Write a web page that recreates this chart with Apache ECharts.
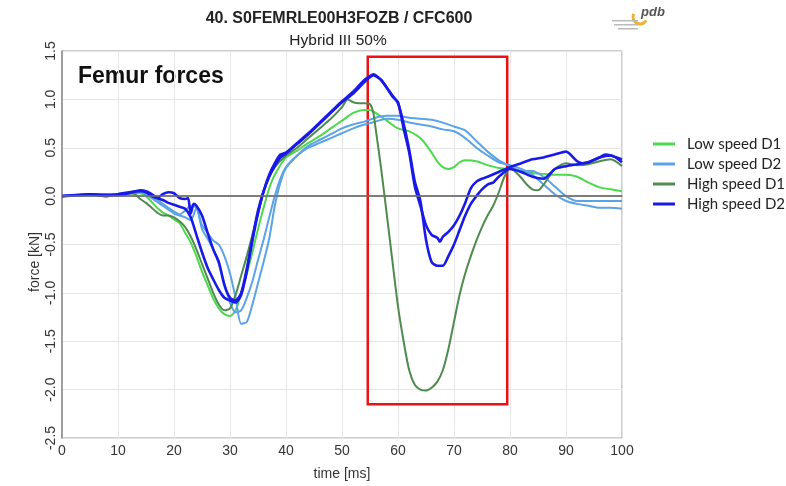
<!DOCTYPE html>
<html>
<head>
<meta charset="utf-8">
<script src="https://cdn.jsdelivr.net/npm/echarts@6/dist/echarts.min.js"></script>
<style>html,body{margin:0;padding:0;background:#fff}#c{width:786px;height:486px}</style>
</head>
<body>
<div id="c"></div>
<script>
// ---- data ----
const seriesNames = ['Low speed D1', 'Low speed D2', 'High speed D1', 'High speed D2'];
const xTicks = [0, 10, 20, 30, 40, 50, 60, 70, 80, 90, 100];
const yTicks = [-2.5, -2.0, -1.5, -1.0, -0.5, 0.0, 0.5, 1.0, 1.5];

const lowD1_t = [0,5,10,12,14,15,16,17,18,19,20,21,22,23,24,25,26,27,28,29,30,31,32,33,34,35,36,37,38,40,42,44,46,48,50,52,54,55,56,58,60,62,64,66,67,68,69,70,71,72,74,76,78,80,82,84,86,88,90,92,94,96,98,100];
const lowD1_f = [0,0.01,0.02,0.03,0.03,0.0,-0.06,-0.12,-0.17,-0.2,-0.24,-0.28,-0.38,-0.48,-0.62,-0.78,-0.92,-1.06,-1.16,-1.22,-1.24,-1.18,-1.0,-0.8,-0.58,-0.34,-0.12,0.08,0.22,0.4,0.47,0.55,0.62,0.7,0.78,0.86,0.89,0.89,0.86,0.78,0.7,0.67,0.6,0.45,0.36,0.3,0.28,0.3,0.35,0.37,0.36,0.32,0.29,0.28,0.26,0.24,0.23,0.22,0.22,0.2,0.14,0.09,0.07,0.05];

const lowD2a_t = [0,5,10,12,14,16,17,18,19,20,21,22,23,24,25,26,27,28,29,30,31,32,33,34,35,36,37,38,39,40,42,44,46,48,50,52,54,56,58,60,62,64,66,68,70,72,74,76,78,80,82,84,86,88,90,92,94,96,98,100];
const lowD2a_f = [0,0.01,0.02,0.04,0.05,0.0,-0.04,-0.08,-0.12,-0.16,-0.19,-0.15,-0.1,-0.12,-0.3,-0.38,-0.46,-0.5,-0.62,-0.8,-1.05,-1.32,-1.3,-1.12,-0.9,-0.68,-0.44,-0.1,0.14,0.29,0.42,0.52,0.58,0.64,0.7,0.74,0.77,0.81,0.83,0.83,0.81,0.8,0.79,0.76,0.72,0.68,0.57,0.46,0.37,0.31,0.26,0.26,0.2,0.1,0.0,-0.05,-0.05,-0.05,-0.05,-0.05];

const lowD2b_t = [0,5,10,12,14,16,18,19,20,21,22,23,24,25,26,27,28,29,30,31,32,33,34,35,36,37,38,39,40,42,44,46,48,50,52,54,56,58,60,62,64,66,68,70,72,74,76,78,80,82,84,86,88,90,92,94,96,98,100];
const lowD2b_f = [0,0.01,0.02,0.03,0.04,-0.02,-0.1,-0.14,-0.18,-0.2,-0.22,-0.25,-0.12,-0.34,-0.44,-0.55,-0.7,-0.9,-1.1,-1.2,-1.18,-1.05,-0.88,-0.66,-0.45,-0.22,0.0,0.18,0.3,0.42,0.5,0.55,0.6,0.65,0.7,0.74,0.77,0.8,0.79,0.76,0.74,0.72,0.69,0.67,0.6,0.5,0.42,0.35,0.32,0.28,0.22,0.12,0.02,-0.05,-0.08,-0.1,-0.12,-0.12,-0.13];

const highD1_t = [0,5,10,12,13,14,15,16,17,18,19,20,21,22,23,24,25,26,27,28,29,30,31,32,33,34,35,36,37,38,40,42,44,46,48,50,51,52,53,54,55,55.6,56,57,58,59,60,61,62,63,64,65,66,67,68,69,70,71,72,73,74,75,76,77,78,79,80,81,82,83,84,85,86,87,88,90,92,94,96,98,100];
const highD1_f = [0,0.01,0.02,0.03,0.02,-0.03,-0.07,-0.12,-0.17,-0.2,-0.2,-0.22,-0.26,-0.32,-0.42,-0.55,-0.7,-0.85,-1.0,-1.12,-1.18,-1.16,-1.02,-0.82,-0.62,-0.4,-0.18,0.05,0.2,0.3,0.42,0.5,0.6,0.7,0.8,0.92,1.0,0.97,0.96,0.96,0.95,0.86,0.7,0.28,-0.19,-0.67,-1.14,-1.5,-1.8,-1.95,-2.0,-2.01,-1.98,-1.92,-1.8,-1.58,-1.3,-1.02,-0.8,-0.62,-0.46,-0.32,-0.2,-0.1,0.04,0.2,0.29,0.25,0.19,0.12,0.07,0.06,0.12,0.2,0.28,0.34,0.32,0.33,0.36,0.38,0.31];

const highD2a_t = [0,3,5,8,10,12,14,15,16,17,18,19,20,21,22,22.5,23,23.5,24,25,26,27,28,29,30,31,32,33,34,35,36,37,38,39,40,42,44,46,48,50,52,54,55,55.6,56,57,58,59,60,61,62,63,64,65,66,67,67.5,68,69,70,71,72,73,74,75,76,78,80,82,84,86,88,90,92,93,94,96,97,98,100];
const highD2a_f = [0,0.01,0.02,0.0,0.02,0.04,0.05,0.04,0.0,-0.02,0.02,0.04,0.03,-0.02,-0.03,-0.02,-0.18,-0.08,-0.1,-0.2,-0.38,-0.55,-0.68,-0.92,-1.05,-1.08,-1.0,-0.75,-0.44,-0.15,0.05,0.2,0.31,0.4,0.44,0.54,0.64,0.75,0.86,0.97,1.06,1.18,1.23,1.25,1.24,1.2,1.12,1.03,0.97,0.7,0.45,0.1,-0.1,-0.3,-0.4,-0.43,-0.47,-0.42,-0.37,-0.3,-0.2,-0.07,0.08,0.15,0.18,0.2,0.25,0.3,0.34,0.38,0.4,0.43,0.46,0.36,0.34,0.35,0.4,0.43,0.42,0.38];

const highD2b_t = [0,5,10,12,14,15,16,17,18,19,20,21,22,23,24,25,26,27,28,29,30,31,32,33,34,35,36,37,38,39,40,42,44,46,48,50,52,54,55,55.6,56,57,58,59,60,61,62,63,64,65,66,67,68,69,70,71,72,73,74,75,76,77,78,80,82,84,86,88,90,92,94,96,98,100];
const highD2b_f = [0,0.02,0.01,0.03,0.06,0.05,0.02,-0.02,-0.04,-0.07,-0.09,-0.11,-0.13,-0.22,-0.4,-0.58,-0.74,-0.86,-0.97,-1.05,-1.08,-1.1,-1.02,-0.78,-0.46,-0.18,0.05,0.22,0.34,0.43,0.45,0.55,0.65,0.76,0.87,0.98,1.08,1.2,1.24,1.26,1.25,1.2,1.12,1.04,0.96,0.75,0.48,0.15,-0.05,-0.45,-0.68,-0.72,-0.72,-0.62,-0.5,-0.35,-0.2,-0.08,0.0,0.07,0.12,0.14,0.2,0.28,0.25,0.2,0.18,0.28,0.31,0.33,0.35,0.4,0.42,0.35];

// highlighted window (red box)
const boxTime = [54.6, 79.5];
const boxForce = [1.44, -2.15];

// ---- build ----
function pairs(t, f) { return t.map((v, i) => [v, f[i]]); }
const colors = ['#4cd94c', '#5ba3e6', '#4f8a4f', '#1a1ae8'];

function lineSeries(name, t, f, color, width) {
  return {
    type: 'line', name: name, data: pairs(t, f), symbol: 'none', smooth: 0.25,
    lineStyle: { color: color, width: width }, itemStyle: { color: color }, z: 3
  };
}

const chart = echarts.init(document.getElementById('c'), null, { renderer: 'canvas' });
chart.setOption({
  animation: false,
  backgroundColor: '#fff',
  title: [
    { text: '40. S0FEMRLE00H3FOZB / CFC600', left: 334, top: 6, textAlign: 'center',
      textStyle: { fontFamily: 'Liberation Sans', fontWeight: 'bold', fontSize: 16, color: '#222' } },
    { text: 'Hybrid III 50%', left: 333, top: 28, textAlign: 'center',
      textStyle: { fontFamily: 'Liberation Sans', fontWeight: 'normal', fontSize: 15.5, color: '#222' } }
  ],
  grid: { left: 62, right: 164, top: 51, bottom: 45, show: true, borderColor: '#9a9a9a', borderWidth: 1 },
  legend: {
    orient: 'vertical', left: 648, top: 129,
    data: seriesNames.map(n => ({ name: n, icon: 'rect' })),
    itemWidth: 22, itemHeight: 3, itemGap: 0,
    textStyle: { fontFamily: 'Lato', fontSize: 15, color: '#222', lineHeight: 20, padding: [0, 0, 0, 7] }
  },
  xAxis: {
    type: 'value', min: 0, max: 100, interval: 10,
    name: 'time [ms]', nameLocation: 'middle', nameGap: 29,
    nameTextStyle: { fontFamily: 'Liberation Sans', fontSize: 14, color: '#333' },
    axisLine: { lineStyle: { color: '#8a8a8a', width: 1.5 } },
    axisTick: { show: false },
    axisLabel: { fontFamily: 'Liberation Sans', fontSize: 14, color: '#333', margin: 6,
      formatter: v => xTicks.includes(v) ? String(v) : '' },
    splitLine: { lineStyle: { color: '#e6e6e6', width: 1 } }
  },
  yAxis: {
    type: 'value', min: -2.5, max: 1.5, interval: 0.5,
    axisLine: { show: true, lineStyle: { color: '#8a8a8a', width: 1.5 } },
    axisTick: { show: false },
    axisLabel: { fontFamily: 'Liberation Sans', fontSize: 14, color: '#333', rotate: 90, margin: 4,
      formatter: v => { const m = yTicks.find(t => Math.abs(t - v) < 1e-9); return m === undefined ? '' : m.toFixed(1); } },
    splitLine: { lineStyle: { color: '#e6e6e6', width: 1 } }
  },
  graphic: [
    { type: 'text', left: 78, top: 65, style: { text: 'Femur forces', fontFamily: 'Liberation Sans', fontWeight: 'bold', fontSize: 23, fill: '#111' } },
    { type: 'text', x: 35, y: 262, rotation: Math.PI / 2,
      style: { text: 'force [kN]', fontFamily: 'Liberation Sans', fontSize: 14, fill: '#333', align: 'center', verticalAlign: 'middle' } },
    { type: 'text', x: 641, y: 6, style: { text: 'pdb', fontFamily: 'Liberation Sans', fontStyle: 'italic', fontWeight: 'bold', fontSize: 13, fill: '#555' } },
    { type: 'arc', shape: { cx: 640, cy: 17, r: 7, startAngle: 0.5, endAngle: 3.6 }, style: { stroke: '#f0b030', lineWidth: 3, fill: null } },
    { type: 'rect', shape: { x: 612, y: 20, width: 26, height: 1.5 }, style: { fill: '#bbb' } },
    { type: 'rect', shape: { x: 614, y: 24, width: 24, height: 1.5 }, style: { fill: '#bbb' } },
    { type: 'rect', shape: { x: 618, y: 28, width: 20, height: 1.5 }, style: { fill: '#bbb' } }
  ],
  series: [
    lineSeries(seriesNames[0], lowD1_t, lowD1_f, colors[0], 2),
    lineSeries(seriesNames[1], lowD2a_t, lowD2a_f, colors[1], 2),
    lineSeries(seriesNames[1], lowD2b_t, lowD2b_f, colors[1], 2),
    lineSeries(seriesNames[2], highD1_t, highD1_f, colors[2], 2),
    lineSeries(seriesNames[3], highD2a_t, highD2a_f, colors[3], 2.6),
    lineSeries(seriesNames[3], highD2b_t, highD2b_f, colors[3], 2.6),
    {
      type: 'line', name: 'zero', data: [], z: 2, silent: true,
      markLine: { symbol: 'none', silent: true, label: { show: false },
        lineStyle: { color: '#707070', width: 1.5, type: 'solid' }, data: [{ yAxis: 0 }] }
    },
    {
      type: 'line', name: 'box', data: [], z: 5, silent: true,
      markArea: { silent: true, label: { show: false },
        itemStyle: { color: 'rgba(0,0,0,0)', borderColor: '#ee1111', borderWidth: 2.5 },
        data: [[{ coord: [boxTime[0], boxForce[0]] }, { coord: [boxTime[1], boxForce[1]] }]] }
    }
  ]
});
</script>
</body>
</html>
